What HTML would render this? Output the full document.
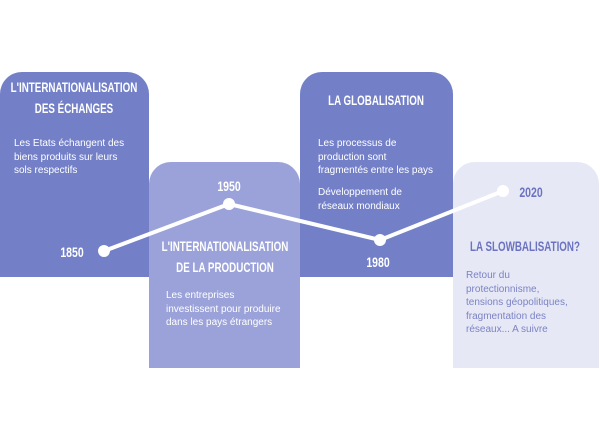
<!DOCTYPE html>
<html><head><meta charset="utf-8"><style>
body{margin:0;width:600px;height:430px;background:#fff;position:relative;overflow:hidden;font-family:"Liberation Sans",sans-serif}
.b{position:absolute;border-radius:22px 22px 0 0}
.t{position:absolute;font-weight:bold;font-size:14px;line-height:21px;text-align:center;color:#fff;white-space:nowrap;transform:translateX(-50%) scaleX(0.7);transform-origin:center}
.p{position:absolute;font-size:10px;line-height:13.5px;color:#fff;white-space:nowrap}
.y{position:absolute;font-weight:bold;font-size:14px;color:#fff;transform:translate(-50%,-50%) scaleX(0.75)}
</style></head><body>
<div class="b" style="left:0;top:72px;width:149px;height:205px;background:#7380c8"></div>
<div class="b" style="left:149px;top:162px;width:151px;height:206px;background:#9aa2d9"></div>
<div class="b" style="left:300px;top:72px;width:153px;height:205px;background:#7380c8"></div>
<div class="b" style="left:453px;top:162px;width:146px;height:206px;background:#e7e8f6"></div>

<div class="t" style="left:74px;top:77px">L'INTERNATIONALISATION<br>DES ÉCHANGES</div>
<div class="p" style="left:14px;top:137px">Les Etats échangent des<br>biens produits sur leurs<br>sols respectifs</div>

<div class="t" style="left:225px;top:236px">L'INTERNATIONALISATION<br>DE LA PRODUCTION</div>
<div class="p" style="left:166px;top:289px">Les entreprises<br>investissent pour produire<br>dans les pays étrangers</div>

<div class="t" style="left:376px;top:90px">LA GLOBALISATION</div>
<div class="p" style="left:318px;top:137px">Les processus de<br>production sont<br>fragmentés entre les pays</div>
<div class="p" style="left:318px;top:186px">Développement de<br>réseaux mondiaux</div>

<div class="t" style="left:525px;top:236px;color:#6b73c0">LA SLOWBALISATION?</div>
<div class="p" style="left:466px;top:269px;color:#7b83c4">Retour du<br>protectionnisme,<br>tensions géopolitiques,<br>fragmentation des<br>réseaux... A suivre</div>

<svg style="position:absolute;left:0;top:0" width="600" height="430">
<polyline points="104,251 229,204 380,240 503,191" fill="none" stroke="#fff" stroke-width="4"/>
<circle cx="104" cy="251" r="6" fill="#fff"/>
<circle cx="229" cy="204" r="6" fill="#fff"/>
<circle cx="380" cy="240" r="6" fill="#fff"/>
<circle cx="503" cy="191" r="6" fill="#fff"/>
</svg>
<div class="y" style="left:72px;top:252px">1850</div>
<div class="y" style="left:229px;top:186px">1950</div>
<div class="y" style="left:378px;top:262px">1980</div>
<div class="y" style="left:531px;top:192px;color:#6b73c0">2020</div>
</body></html>
